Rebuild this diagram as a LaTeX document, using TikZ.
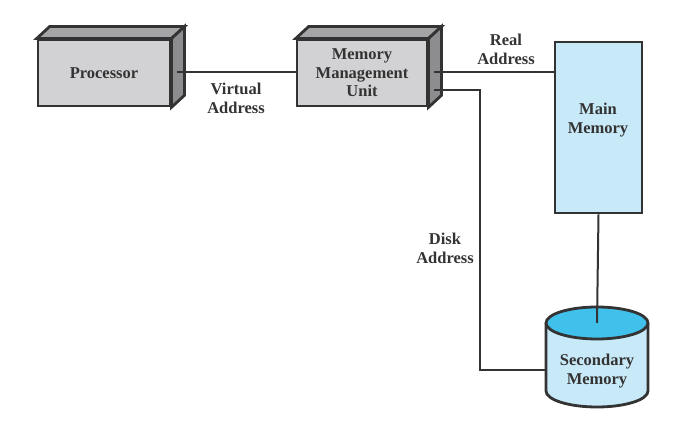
\documentclass[tikz,border=0pt]{standalone}
\usepackage{fontspec}
\setmainfont{Liberation Serif}
\usetikzlibrary{calc}
\definecolor{edge}{HTML}{333333}
\definecolor{front}{HTML}{D2D2D4}
\definecolor{topface}{HTML}{A5A5A8}
\definecolor{sideface}{HTML}{8D8D90}
\definecolor{paleblue}{HTML}{C8E9F8}
\definecolor{deepblue}{HTML}{3FC1EC}
\tikzset{
  x=1pt, y=1pt,
  boxface/.style={draw=edge, line width=2.8pt, line join=miter},
  frontbox/.style={boxface, fill=front, minimum width=132pt, minimum height=66pt,
    inner sep=0pt, align=center, font=\fontsize{16.5}{18.5}\selectfont\bfseries, text=edge},
  wire/.style={draw=edge, line width=2pt},
  lbl/.style={align=center, font=\fontsize{16.5}{19}\selectfont\bfseries, text=edge, inner sep=0pt},
}
\begin{document}
\begin{tikzpicture}
\useasboundingbox (0,0) rectangle (678,436);
% Processor
\node[frontbox] (proc) at (104,363) {Processor};
\draw[boxface, fill=topface] (proc.north west) -- ++(13,12) -- ($(proc.north east)+(13,12)$) -- (proc.north east) -- cycle;
\draw[boxface, fill=sideface] (proc.north east) -- ++(13,12) -- ($(proc.south east)+(13,12)$) -- (proc.south east) -- cycle;
% MMU
\node[frontbox, minimum width=130pt] (mmu) at (362,363) {Memory\\Management\\Unit};
\draw[boxface, fill=topface] (mmu.north west) -- ++(13,12) -- ($(mmu.north east)+(13,12)$) -- (mmu.north east) -- cycle;
\draw[boxface, fill=sideface] (mmu.north east) -- ++(13,12) -- ($(mmu.south east)+(13,12)$) -- (mmu.south east) -- cycle;
% Main memory
\node[boxface, fill=paleblue, minimum width=87pt, minimum height=171pt, inner sep=0pt] (mm) at (598.5,308.5) {};
\node[lbl] (mmtext) at (598,316) {Main\\Memory};
% Secondary memory cylinder
\fill[paleblue] (546,113) rectangle (648,45);
\fill[paleblue] (597,45) ellipse [x radius=51, y radius=16];
\draw[boxface] (546,113) -- (546,45) arc[start angle=180, end angle=360, x radius=51, y radius=16] -- (648,113);
\draw[boxface, fill=deepblue] (597,113) ellipse [x radius=51, y radius=16];
\coordinate (smtop) at (597,113);
\coordinate (smleft) at (546,66);
\node[lbl] (sm) at (597,65) {Secondary\\Memory};
% Connectors
\coordinate (procout) at ($(proc.east)+(6,1)$);
\draw[wire] (procout) -- (procout -| mmu.west);
\coordinate (mmuA) at ($(mmu.east)+(6,1)$);
\coordinate (mmuB) at ($(mmu.east)+(6,-17)$);
\draw[wire] (mmuA) -- (mmuA -| mm.west);
\coordinate (dk) at (480,66);
\draw[wire] (mmuB) -| (dk) -- (smleft);
\draw[wire] (mm.south) -- (smtop);
% Labels
\node[lbl] (va) at (236,338) {Virtual\\Address};
\node[lbl] (ra) at (506,387) {Real\\Address};
\node[lbl] (da) at (445,188) {Disk\\Address};
\end{tikzpicture}
\end{document}
